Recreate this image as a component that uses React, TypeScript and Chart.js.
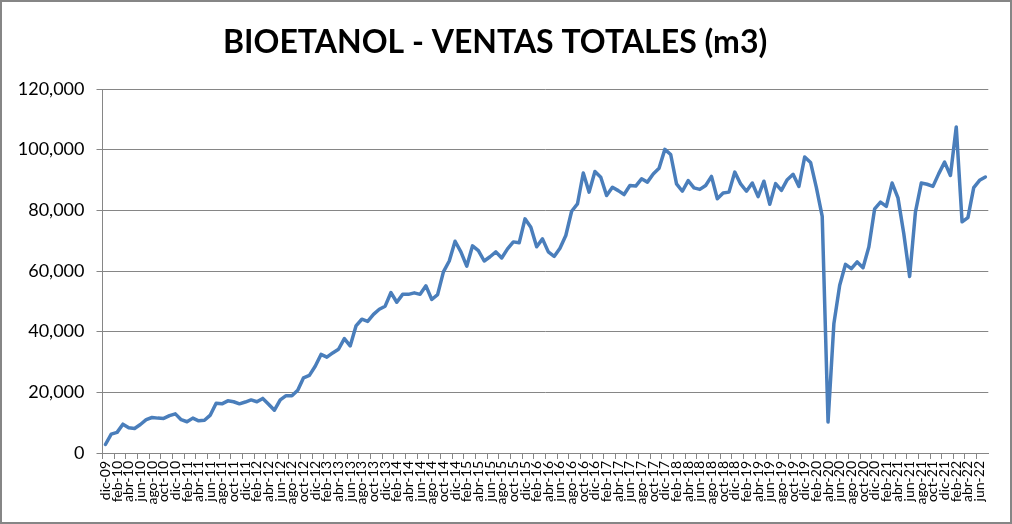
import React, { useEffect, useRef } from "react";
import { Chart, registerables } from "chart.js";

Chart.register(...registerables);

const TITLE = "BIOETANOL - VENTAS TOTALES (m3)";
const MONTHS = ["ene", "feb", "mar", "abr", "may", "jun", "jul", "ago", "sep", "oct", "nov", "dic"];
const START_YEAR = 2009;
const START_MONTH = 11; // dic
const Y_MIN = 0;
const Y_MAX = 120000;
const Y_STEP = 20000;

const VENTAS: number[] = [
  2800, 6200, 6800, 9500, 8300, 8100, 9400, 11000, 11700, 11500, 11400, 12300, 12900,
  11000, 10300, 11500, 10600, 10800, 12500, 16400, 16200, 17200, 16900, 16200, 16800,
  17500, 16900, 18000, 16100, 14100, 17500, 18900, 18900, 20700, 24800, 25600, 28600,
  32500, 31600, 33000, 34200, 37700, 35300, 41900, 44100, 43400, 45700, 47400, 48400,
  52900, 49700, 52300, 52300, 52800, 52300, 55100, 50600, 52200, 59700, 63300, 69800,
  66300, 61600, 68300, 66700, 63300, 64700, 66300, 64300, 67300, 69600, 69300, 77200,
  74400, 68000, 70600, 66300, 64800, 67500, 71700, 79700, 82100, 92300, 86000, 92800,
  90900, 84900, 87600, 86500, 85200, 88200, 88000, 90400, 89300, 92000, 93900, 100100,
  98400, 88700, 86300, 89800, 87400, 86900, 88200, 91200, 83800, 85700, 86000, 92600,
  88700, 86300, 89000, 84500, 89600, 82000, 88800, 86600, 90100, 91900, 87900, 97600,
  95800, 87500, 78000, 10200, 42600, 55300, 62200, 60800, 63000, 61100, 67900, 80500,
  82700, 81300, 89000, 84100, 72300, 58200, 79500, 89000, 88600, 87900, 92100, 95900,
  91500, 107500, 76200, 77600, 87500, 89900, 91000,
];

const LABELS: string[] = VENTAS.map((_, i) => {
  const m = (START_MONTH + i) % 12;
  const y = START_YEAR + Math.floor((START_MONTH + i) / 12);
  return `${MONTHS[m]}-${String(y % 100).padStart(2, "0")}`;
});

const GRAY = "#868686";
const FONT = "Lato, 'Liberation Sans', sans-serif";

export default function App() {
  const ref = useRef<HTMLCanvasElement | null>(null);

  useEffect(() => {
    if (!ref.current) return;
    const chart = new Chart(ref.current, {
      type: "line",
      data: {
        labels: LABELS,
        datasets: [
          {
            label: "Ventas",
            data: VENTAS,
            borderColor: "#4A7EBB",
            backgroundColor: "#4A7EBB",
            borderWidth: 3.5,
            pointRadius: 0,
            pointHoverRadius: 0,
            tension: 0,
            borderJoinStyle: "round",
            borderCapStyle: "round",
          },
        ],
      },
      options: {
        responsive: false,
        animation: false,
        layout: { padding: { left: 0, right: 21.7, top: 0, bottom: 0 } },
        plugins: {
          legend: { display: false },
          tooltip: { enabled: false },
          title: {
            display: true,
            text: TITLE,
            color: "#000000",
            font: { family: FONT, size: 32, weight: "bold", lineHeight: 1.2 },
            padding: { top: 21, bottom: 27.6 },
          },
        },
        scales: {
          x: {
            type: "category",
            offset: true,
            afterFit: (s: any) => {
              s.height = 69;
            },
            grid: {
              offset: true,
              drawOnChartArea: false,
              drawTicks: true,
              tickLength: 6,
              color: (ctx: any) => (ctx.index % 2 === 0 ? GRAY : "rgba(0,0,0,0)"),
              lineWidth: 1,
            },
            border: { display: true, color: GRAY, width: 1 },
            ticks: {
              autoSkip: false,
              maxRotation: 90,
              minRotation: 90,
              padding: 2,
              color: "#000000",
              font: { family: FONT, size: 14 },
              callback: (_v: any, i: number) => (i % 2 === 0 ? LABELS[i] : ""),
            },
          },
          y: {
            min: Y_MIN,
            max: Y_MAX,
            afterFit: (s: any) => {
              s.width = 100.5;
            },
            grid: {
              color: GRAY,
              lineWidth: 1,
              drawTicks: true,
              tickLength: 6,
            },
            border: { display: true, color: GRAY, width: 1 },
            ticks: {
              stepSize: Y_STEP,
              padding: 12,
              color: "#000000",
              font: { family: FONT, size: 18 },
              callback: (v: any) => Number(v).toLocaleString("en-US"),
            },
          },
        },
      },
    });
    return () => chart.destroy();
  }, []);

  return (
    <div
      style={{
        position: "fixed",
        left: 0,
        top: 0,
        width: 1012,
        height: 524,
        boxSizing: "border-box",
        border: `2px solid ${GRAY}`,
        background: "#ffffff",
      }}
    >
      <canvas ref={ref} width={1008} height={520} style={{ display: "block" }} />
    </div>
  );
}
